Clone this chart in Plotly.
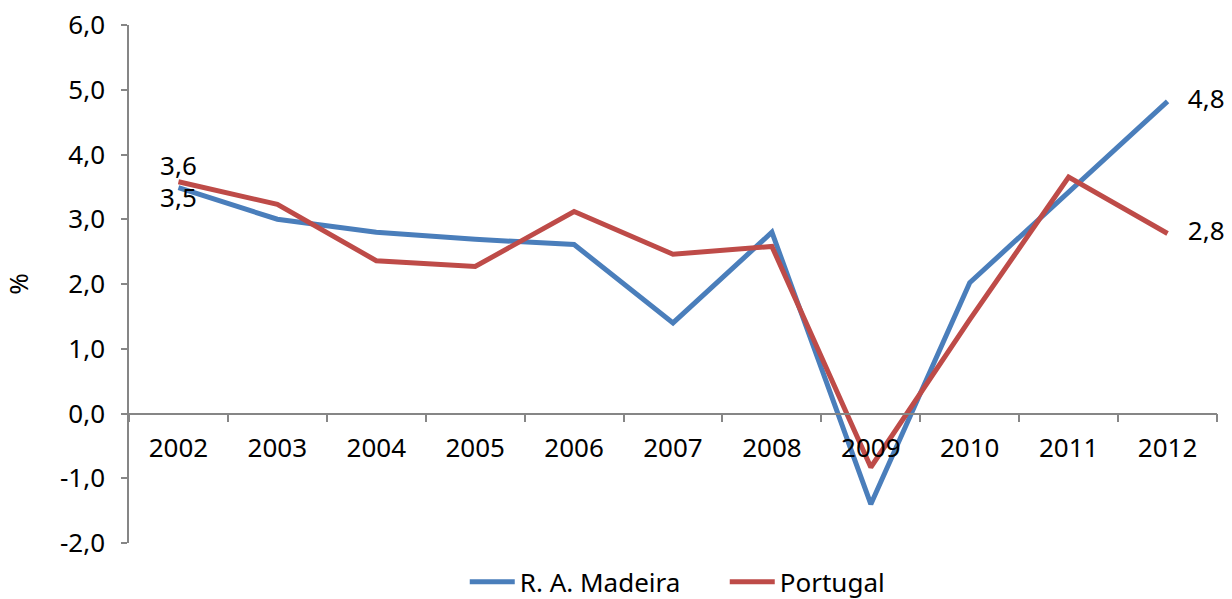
import plotly.graph_objects as go

years = ["2002", "2003", "2004", "2005", "2006", "2007", "2008", "2009", "2010", "2011", "2012"]
madeira = [3.49, 3.0, 2.8, 2.69, 2.61, 1.4, 2.8, -1.4, 2.02, 3.41, 4.82]
portugal = [3.58, 3.23, 2.36, 2.27, 3.12, 2.46, 2.58, -0.83, 1.45, 3.65, 2.78]
y_ticks = [-2, -1, 0, 1, 2, 3, 4, 5, 6]


def fmt(v):
    return f"{v:.1f}".replace(".", ",")


def labels(vals):
    out = [""] * len(vals)
    out[0] = fmt(vals[0])
    out[-1] = "\u00a0\u00a0\u00a0" + fmt(vals[-1])
    return out


font = dict(family="Noto Sans, DejaVu Sans, sans-serif", size=26, color="#000000")
axis_grey = "#868686"

fig = go.Figure()
fig.add_trace(go.Scatter(
    x=years, y=madeira, name="R. A. Madeira", mode="lines+text",
    line=dict(color="#4A7EBB", width=5),
    text=labels(madeira),
    textposition=["bottom center"] + ["middle right"] * (len(madeira) - 1),
    textfont=font, cliponaxis=False,
))
fig.add_trace(go.Scatter(
    x=years, y=portugal, name="Portugal", mode="lines+text",
    line=dict(color="#BE4B48", width=5),
    text=labels(portugal),
    textposition=["top center"] + ["middle right"] * (len(portugal) - 1),
    textfont=font, cliponaxis=False,
))

fig.update_layout(
    width=1232, height=599,
    margin=dict(l=129, r=15, t=25, b=56, autoexpand=False),
    paper_bgcolor="white", plot_bgcolor="white",
    font=font,
    showlegend=True,
    legend=dict(orientation="h", x=0.3086, xanchor="left", y=-0.075, yanchor="middle",
                font=font, itemwidth=45, entrywidth=200, tracegroupgap=0),
)
fig.update_xaxes(
    type="category", range=[-0.5, 10.5],
    anchor="free", position=0.25,
    showline=True, linecolor=axis_grey, linewidth=1.5,
    ticks="outside", ticklen=8, tickcolor=axis_grey, tickwidth=1.5,
    tickson="boundaries", showgrid=False, zeroline=False,
    tickfont=font, automargin=False, ticklabelstandoff=12,
)
fig.update_yaxes(
    range=[-2, 6], tickvals=y_ticks, ticktext=[fmt(v) for v in y_ticks],
    showline=True, linecolor=axis_grey, linewidth=1.5,
    ticks="outside", ticklen=6, tickcolor=axis_grey, tickwidth=1.5,
    showgrid=False, zeroline=False, ticklabeloverflow="allow",
    tickfont=font, automargin=False, ticklabelstandoff=11,
    title=dict(text="%", font=font, standoff=25),
    domain=[0, 1],
)

fig.write_html(
    "out.html",
    config={"displayModeBar": False},
    post_script="document.body.style.margin='0';document.body.style.overflow='hidden';",
)
